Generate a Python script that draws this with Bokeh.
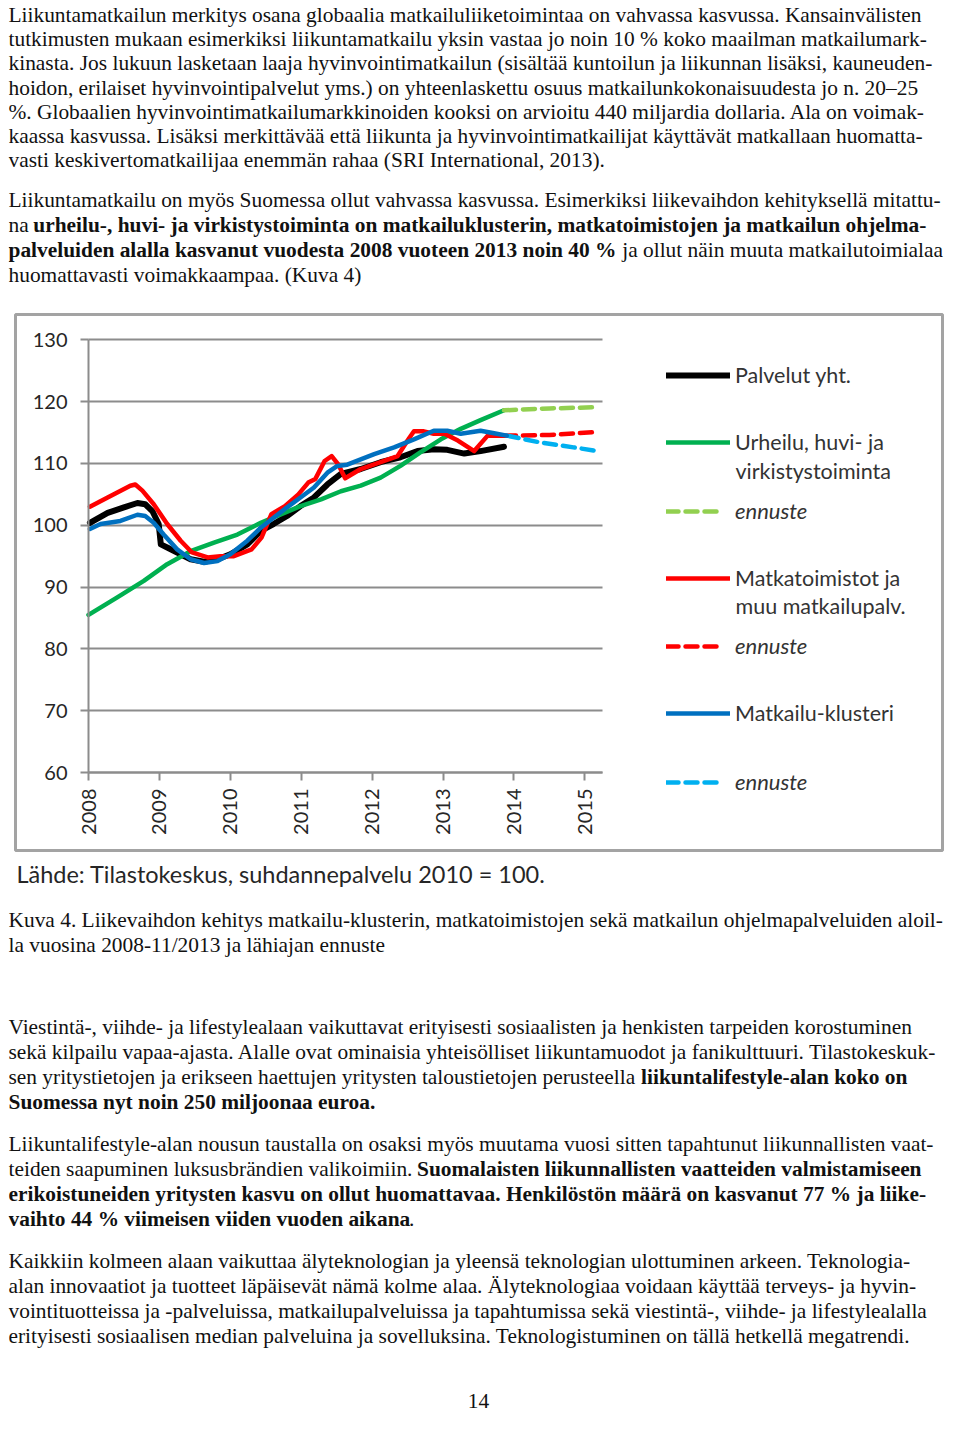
import math
from bokeh.plotting import figure
from bokeh.layouts import column
from bokeh.models import Range1d, Legend, LegendItem, Label, FixedTicker, BoxAnnotation
from bokeh.core.properties import value
from bokeh.embed import file_html
from bokeh.resources import INLINE

# ---------------- data ----------------
years = [2008, 2009, 2010, 2011, 2012, 2013, 2014, 2015]
y_ticks = [60, 70, 80, 90, 100, 110, 120, 130]

black_x = [2008.02, 2008.27, 2008.50, 2008.69, 2008.80, 2008.90, 2008.99, 2009.02, 2009.11, 2009.25,
           2009.44, 2009.63, 2009.82, 2010.00, 2010.24, 2010.43, 2010.61, 2010.80, 2010.99, 2011.18,
           2011.37, 2011.56, 2011.84, 2012.12, 2012.40, 2012.64, 2012.87, 2013.06, 2013.30, 2013.53, 2013.86]
black_y = [100.4, 102.0, 102.9, 103.6, 103.4, 102.3, 100.2, 96.9, 96.4, 95.6,
           94.5, 94.1, 94.5, 95.3, 96.9, 99.1, 100.2, 101.5, 103.1, 104.5,
           106.6, 108.3, 109.1, 110.2, 111.0, 112.0, 112.3, 112.2, 111.6, 112.0, 112.7]

green_x = [2008.0, 2008.4, 2008.78, 2009.11, 2009.44, 2009.77, 2010.10, 2010.43, 2010.72, 2010.99,
           2011.28, 2011.56, 2011.84, 2012.12, 2012.40, 2012.68, 2012.97, 2013.25, 2013.53, 2013.86]
green_y = [85.5, 88.3, 91.0, 93.7, 95.8, 97.2, 98.5, 100.4, 101.8, 103.1,
           104.2, 105.5, 106.4, 107.7, 109.6, 111.8, 113.9, 115.6, 117.0, 118.6]
green_fc_x = [2013.86, 2014.5, 2015.18]
green_fc_y = [118.6, 118.9, 119.1]

red_x = [2008.02, 2008.27, 2008.59, 2008.66, 2008.76, 2008.92, 2009.11, 2009.30, 2009.46, 2009.68,
         2009.86, 2010.05, 2010.30, 2010.44, 2010.58, 2010.77, 2010.96, 2011.10, 2011.20, 2011.33,
         2011.43, 2011.52, 2011.62, 2011.84, 2012.12, 2012.36, 2012.50, 2012.59, 2012.73, 2012.87,
         2013.02, 2013.21, 2013.44, 2013.63, 2013.86]
red_y = [103.0, 104.5, 106.4, 106.6, 105.6, 103.4, 100.2, 97.5, 95.6, 94.8,
         95.0, 95.0, 96.1, 98.0, 101.8, 103.1, 105.0, 106.9, 107.5, 110.4,
         111.2, 109.9, 107.6, 109.1, 110.2, 111.2, 113.7, 115.2, 115.2, 114.8,
         114.8, 113.7, 112.0, 114.5, 114.5]
red_fc_x = [2013.86, 2014.5, 2015.18]
red_fc_y = [114.5, 114.6, 115.1]

blue_x = [2008.02, 2008.17, 2008.45, 2008.69, 2008.80, 2008.92, 2009.06, 2009.25, 2009.44, 2009.63,
          2009.82, 2010.00, 2010.24, 2010.43, 2010.61, 2010.80, 2010.99, 2011.18, 2011.37, 2011.51,
          2011.65, 2011.74, 2012.03, 2012.31, 2012.59, 2012.87, 2013.06, 2013.25, 2013.53, 2013.72, 2013.90]
blue_y = [99.4, 100.2, 100.7, 101.7, 101.5, 100.4, 98.5, 96.1, 94.5, 93.9,
          94.2, 95.3, 97.5, 99.6, 101.2, 102.9, 104.5, 106.1, 108.5, 109.6,
          109.8, 110.2, 111.5, 112.6, 113.9, 115.3, 115.3, 114.8, 115.3, 114.9, 114.5]
blue_fc_x = [2013.90, 2014.37, 2014.84, 2015.18]
blue_fc_y = [114.5, 113.4, 112.6, 112.0]

legend_labels = ["Palvelut yht.", "Urheilu, huvi- ja", "ennuste", "Matkatoimistot ja",
                 "ennuste", "Matkailu-klusteri", "ennuste"]
legend_second_lines = ["virkistystoiminta", "muu matkailupalv."]
source_text = "Lähde: Tilastokeskus, suhdannepalvelu 2010 = 100."

# ---------------- texts ----------------
para1 = [
    "Liikuntamatkailun merkitys osana globaalia matkailuliiketoimintaa on vahvassa kasvussa. Kansainvälisten",
    "tutkimusten mukaan esimerkiksi liikuntamatkailu yksin vastaa jo noin 10 % koko maailman matkailumark-",
    "kinasta. Jos lukuun lasketaan laaja hyvinvointimatkailun (sisältää kuntoilun ja liikunnan lisäksi, kauneuden-",
    "hoidon, erilaiset hyvinvointipalvelut yms.) on yhteenlaskettu osuus matkailunkokonaisuudesta jo n. 20–25",
    "%. Globaalien hyvinvointimatkailumarkkinoiden kooksi on arvioitu 440 miljardia dollaria. Ala on voimak-",
    "kaassa kasvussa. Lisäksi merkittävää että liikunta ja hyvinvointimatkailijat käyttävät matkallaan huomatta-",
    "vasti keskivertomatkailijaa enemmän rahaa (SRI International, 2013).",
]
# each line: list of (text, bold, x offset in the text figure)
para2 = [
    [("Liikuntamatkailu on myös Suomessa ollut vahvassa kasvussa. Esimerkiksi liikevaihdon kehityksellä mitattu-", False, 0)],
    [("na", False, 0), ("urheilu-, huvi- ja virkistystoiminta on matkailuklusterin, matkatoimistojen ja matkailun ohjelma-", True, 25)],
    [("palveluiden alalla kasvanut vuodesta 2008 vuoteen 2013 noin 40 %", True, 0), ("ja ollut näin muuta matkailutoimialaa", False, 619)],
    [("huomattavasti voimakkaampaa. (Kuva 4)", False, 0)],
]
caption = [
    "Kuva 4. Liikevaihdon kehitys matkailu-klusterin, matkatoimistojen sekä matkailun ohjelmapalveluiden aloil-",
    "la vuosina 2008-11/2013 ja lähiajan ennuste",
]
para3 = [
    [("Viestintä-, viihde- ja lifestylealaan vaikuttavat erityisesti sosiaalisten ja henkisten tarpeiden korostuminen", False, 0)],
    [("sekä kilpailu vapaa-ajasta. Alalle ovat ominaisia yhteisölliset liikuntamuodot ja fanikulttuuri. Tilastokeskuk-", False, 0)],
    [("sen yritystietojen ja erikseen haettujen yritysten taloustietojen perusteella", False, 0), ("liikuntalifestyle-alan koko on", True, 638)],
    [("Suomessa nyt noin 250 miljoonaa euroa.", True, 0)],
]
para4 = [
    [("Liikuntalifestyle-alan nousun taustalla on osaksi myös muutama vuosi sitten tapahtunut liikunnallisten vaat-", False, 0)],
    [("teiden saapuminen luksusbrändien valikoimiin.", False, 0), ("Suomalaisten liikunnallisten vaatteiden valmistamiseen", True, 412)],
    [("erikoistuneiden yritysten kasvu on ollut huomattavaa. Henkilöstön määrä on kasvanut 77 % ja liike-", True, 0)],
    [("vaihto 44 % viimeisen viiden vuoden aikana", True, 0), (".", False, 404)],
]
para5 = [
    [("Kaikkiin kolmeen alaan vaikuttaa älyteknologian ja yleensä teknologian ulottuminen arkeen. Teknologia-", False, 0)],
    [("alan innovaatiot ja tuotteet läpäisevät nämä kolme alaa. Älyteknologiaa voidaan käyttää terveys- ja hyvin-", False, 0)],
    [("vointituotteissa ja -palveluissa, matkailupalveluissa ja tapahtumissa sekä viestintä-, viihde- ja lifestylealalla", False, 0)],
    [("erityisesti sosiaalisen median palveluina ja sovelluksina. Teknologistuminen on tällä hetkellä megatrendi.", False, 0)],
]
page_number = "14"

W = 944
SERIF = value("Liberation Serif")
BODY_SIZE = "21.4px"
TXT = "#111111"


def text_fig(height):
    f = figure(width=W, height=height, x_range=Range1d(0, W), y_range=Range1d(height, 0),
               output_backend="svg", toolbar_location=None, title=None,
               x_axis_location=None, y_axis_location=None,
               min_border_left=0, min_border_right=0, min_border_top=0, min_border_bottom=0)
    f.grid.visible = False
    f.outline_line_color = None
    f.background_fill_color = "white"
    f.border_fill_color = "white"
    return f


def put(f, x, y, s, bold=False, size=BODY_SIZE, font=SERIF, align="left", color=TXT):
    f.text(x=[x], y=[y], text=[s], text_font=font, text_font_size=size,
           text_font_style="bold" if bold else "normal", text_align=align,
           text_baseline="alphabetic", text_color=color)


def put_para(f, lines, y0, top, dy=25.0):
    for i, segs in enumerate(lines):
        for s, b, xl in segs:
            put(f, xl, y0 + i * dy - top, s, bold=b)


# ---------------- top text ----------------
H1 = 292
TOP1 = 8
top = text_fig(H1)
for i, s in enumerate(para1):
    put(top, 0, 14.5 + 24.2 * i, s)
put_para(top, para2, 207.5, TOP1)

# ---------------- chart ----------------
H2 = 560
ML, MR, MT, MB = 8, 0, 8, 0
FL, FR, FT, FB = 8, 944, 300, 852        # frame edges in page pixels
PXY = 70.9      # px per year
PXV = 6.181     # px per index point
X0 = 2008 - (88 - FL) / PXY
X1 = X0 + (FR - FL) / PXY
Y0 = 60 - (FB - 772) / PXV
Y1 = Y0 + (FB - FT) / PXV


def px_to_x(px):
    return X0 + (px - FL) / PXY


def py_to_y(py):
    return Y0 + (FB - py) / PXV


p = figure(width=W, height=H2, x_range=Range1d(X0, X1), y_range=Range1d(Y0, Y1),
           output_backend="svg", toolbar_location=None, title=None,
           min_border_left=ML, min_border_right=MR, min_border_top=MT, min_border_bottom=MB)
p.background_fill_color = "white"
p.border_fill_color = "white"
p.outline_line_color = None

# chart border box
p.add_layout(BoxAnnotation(left=px_to_x(15), right=px_to_x(942), top=py_to_y(314), bottom=py_to_y(850),
                           fill_color=None, fill_alpha=0, line_color="#a3a3a3", line_alpha=1.0,
                           line_width=3, level="underlay"))

GRID = "#8c8c8c"
X_END = 2015.25

p.xaxis.fixed_location = 60
p.yaxis.fixed_location = 2008
for ax in (p.xaxis, p.yaxis):
    ax.axis_line_color = GRID
    ax.axis_line_width = 2
    ax.major_tick_line_color = GRID
    ax.major_tick_line_width = 2
    ax.major_tick_in = 0
    ax.major_tick_out = 8
    ax.minor_tick_line_color = None
    ax.major_label_text_font = "Lato"
    ax.major_label_text_font_size = "20px"
    ax.major_label_text_color = "#262626"
p.xaxis.ticker = FixedTicker(ticks=years)
p.xaxis.bounds = (2008, X_END)
p.xaxis.major_label_orientation = math.pi / 2
p.xaxis.major_label_standoff = 8
p.yaxis.ticker = FixedTicker(ticks=y_ticks)
p.yaxis.bounds = (60, 130)
p.yaxis.major_label_standoff = 13

p.xgrid.visible = False
p.ygrid.ticker = FixedTicker(ticks=y_ticks)
p.ygrid.grid_line_color = GRID
p.ygrid.grid_line_width = 2
try:
    p.ygrid.cross_bounds = (2008, X_END)
except Exception:
    p.ygrid.visible = False
    p.segment(x0=[2008] * len(y_ticks), x1=[X_END] * len(y_ticks), y0=y_ticks, y1=y_ticks,
              line_color=GRID, line_width=2)

common = dict(line_join="round", line_cap="round")
r_black = p.line(black_x, black_y, line_color="#000000", line_width=6, **common)
r_green = p.line(green_x, green_y, line_color="#00b050", line_width=4.5, **common)
r_green_fc = p.line(green_fc_x, green_fc_y, line_color="#92d050", line_width=4.5,
                    line_dash="12 7", line_cap="round")
r_red_fc = p.line(red_fc_x, red_fc_y, line_color="#ff0000", line_width=4.5,
                  line_dash="12 7", line_cap="round")
r_blue_fc = p.line(blue_fc_x, blue_fc_y, line_color="#00b0f0", line_width=4.5,
                   line_dash="12 7", line_cap="round")
r_red = p.line(red_x, red_y, line_color="#ff0000", line_width=4.5, **common)
r_blue = p.line(blue_x, blue_y, line_color="#0070c0", line_width=4.5, **common)

renderers = [r_black, r_green, r_green_fc, r_red, r_red_fc, r_blue, r_blue_fc]
italic = [False, False, True, False, True, False, True]
legend_cy = [376, 443, 512, 579, 647, 714, 783]   # reference pixel rows of legend entries
for lab, rend, it, cy in zip(legend_labels, renderers, italic, legend_cy):
    lg = Legend(items=[LegendItem(label=lab, renderers=[rend])],
                location=(666 - FL, FB - cy - 12),
                padding=0, margin=0, spacing=0,
                label_standoff=13 if it else 5,
                glyph_width=56 if it else 64, glyph_height=24, label_height=24,
                background_fill_alpha=0, border_line_color=None,
                label_text_font="Lato", label_text_font_size="22px" if it else "21.5px",
                label_text_color="#333333",
                label_text_font_style="italic" if it else "normal")
    p.add_layout(lg)

for s, ybase in zip(legend_second_lines, [470, 605]):
    p.add_layout(Label(x=px_to_x(735), y=py_to_y(ybase), text=s,
                       text_font="Lato", text_font_size="21.5px", text_color="#333333",
                       text_baseline="alphabetic"))

# ---------------- bottom text ----------------
H3 = 562
TOP3 = 860
bot = text_fig(H3)
put(bot, 8, 881 - TOP3, source_text, font=value("Lato"), size="23.5px", color="#262626")
for i, s in enumerate(caption):
    put(bot, 0, 927 + 25 * i - TOP3, s)
put_para(bot, para3, 1034.5, TOP3)
put_para(bot, para4, 1151.5, TOP3)
put_para(bot, para5, 1268.5, TOP3)
put(bot, 474, 1408 - TOP3, page_number, align="center")

layout = column(top, p, bot, spacing=0)
open("out.html", "w").write(file_html(layout, INLINE))
